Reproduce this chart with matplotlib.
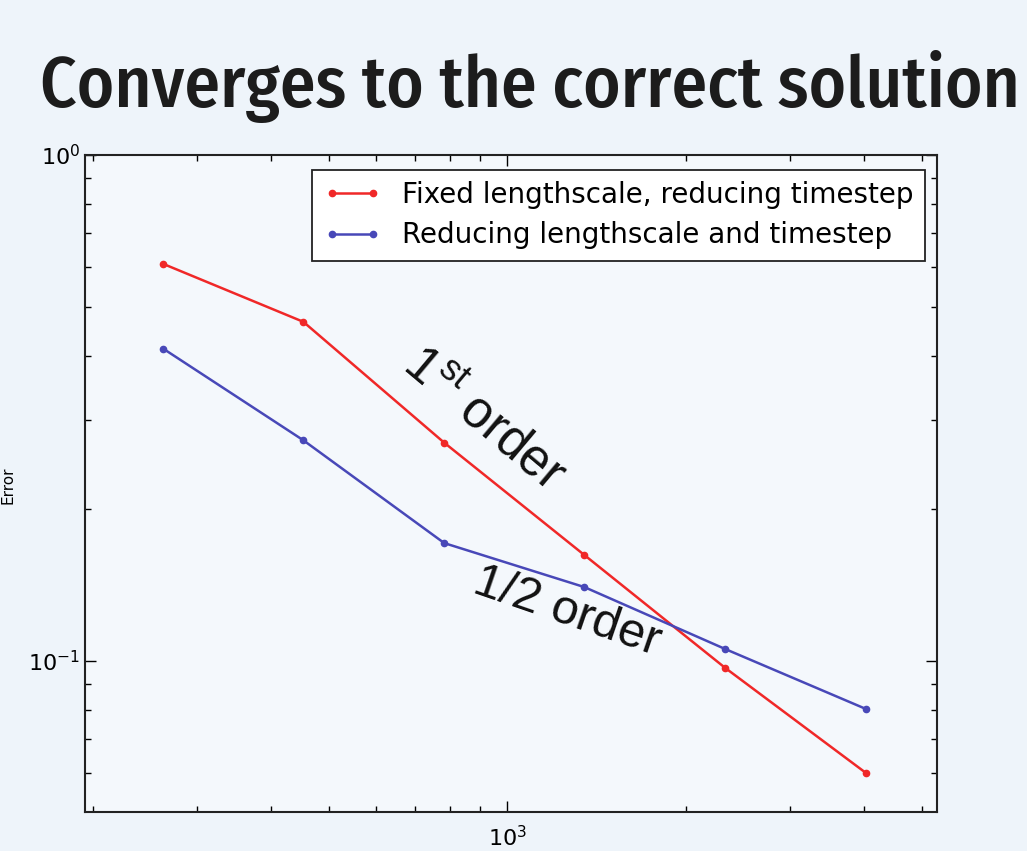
import numpy as np
import matplotlib
matplotlib.use("Agg")
import matplotlib.pyplot as plt
from matplotlib import font_manager

# Data
n_points = [263, 453, 783, 1349, 2332, 4027]
err_fixed = [0.609, 0.468, 0.270, 0.162, 0.0969, 0.0601]
err_reducing = [0.414, 0.273, 0.171, 0.140, 0.1056, 0.0804]
labels = ["Fixed lengthscale, reducing timestep", "Reducing lengthscale and timestep"]
title = "Converges to the correct solution"

names = {f.name for f in font_manager.fontManager.ttflist}
title_font = "DejaVu Sans"
for cand in ["Fira Sans Condensed", "PT Sans Narrow", "Open Sans Condensed",
             "Roboto Condensed", "Archivo Narrow", "Encode Sans Condensed"]:
    if cand in names:
        title_font = cand
        break

plt.rcParams["mathtext.fontset"] = "custom"
plt.rcParams["mathtext.rm"] = "Liberation Sans"

bg = "#eef4fa"
fig = plt.figure(figsize=(10.27, 8.51), dpi=100, facecolor=bg)
ax = fig.add_axes([0.0828, 0.0458, 0.8296, 0.7721])
ax.set_facecolor("#f4f8fc")

ax.plot(n_points, err_fixed, "-o", color="#f02828", lw=1.8, ms=4.5, label=labels[0])
ax.plot(n_points, err_reducing, "-o", color="#4848b8", lw=1.8, ms=4.5, label=labels[1])
ax.set_xscale("log")
ax.set_yscale("log")
ax.set_xlim(194, 5309)
ax.set_ylim(0.0503, 1.0)

ax.tick_params(which="both", direction="in", top=True, right=True, labelsize=16, width=1)
ax.tick_params(which="major", length=8)
ax.tick_params(which="minor", length=4)
ax.tick_params(axis="x", pad=9)
for s in ax.spines.values():
    s.set_linewidth(1.5)
    s.set_color("#222222")

leg = ax.legend(loc="upper right", fontsize=20, numpoints=2, fancybox=False,
                framealpha=1, edgecolor="#222222", borderpad=0.4, handlelength=2.1,
                handletextpad=0.75, labelspacing=0.44, borderaxespad=0,
                bbox_to_anchor=(0.986, 0.977))
leg.get_frame().set_linewidth(1.3)
leg.get_frame().set_facecolor("white")

# slope annotations
ax.text(0.468, 0.598, "1$^{\\mathrm{st}}$ order", transform=ax.transAxes, fontsize=37,
        family="Liberation Sans", rotation=-40, ha="center", va="center", color="#111111")
ax.text(0.566, 0.305, "1/2 order", transform=ax.transAxes, fontsize=35,
        family="Liberation Sans", rotation=-19, ha="center", va="center", color="#111111")

fig.text(0.008, 0.43, "Error", rotation=90, fontsize=11, ha="center", va="center")
t = fig.text(40 / 1027, 1 - 107 / 851, title, family=title_font, fontsize=50,
             fontweight=500, ha="left", va="baseline", color="#1c1c1c")

# fit the title width to the reference
fig.canvas.draw()
w = t.get_window_extent().width
t.set_fontsize(50 * 980 / w)

fig.savefig("out.png", dpi=100, facecolor=bg)
